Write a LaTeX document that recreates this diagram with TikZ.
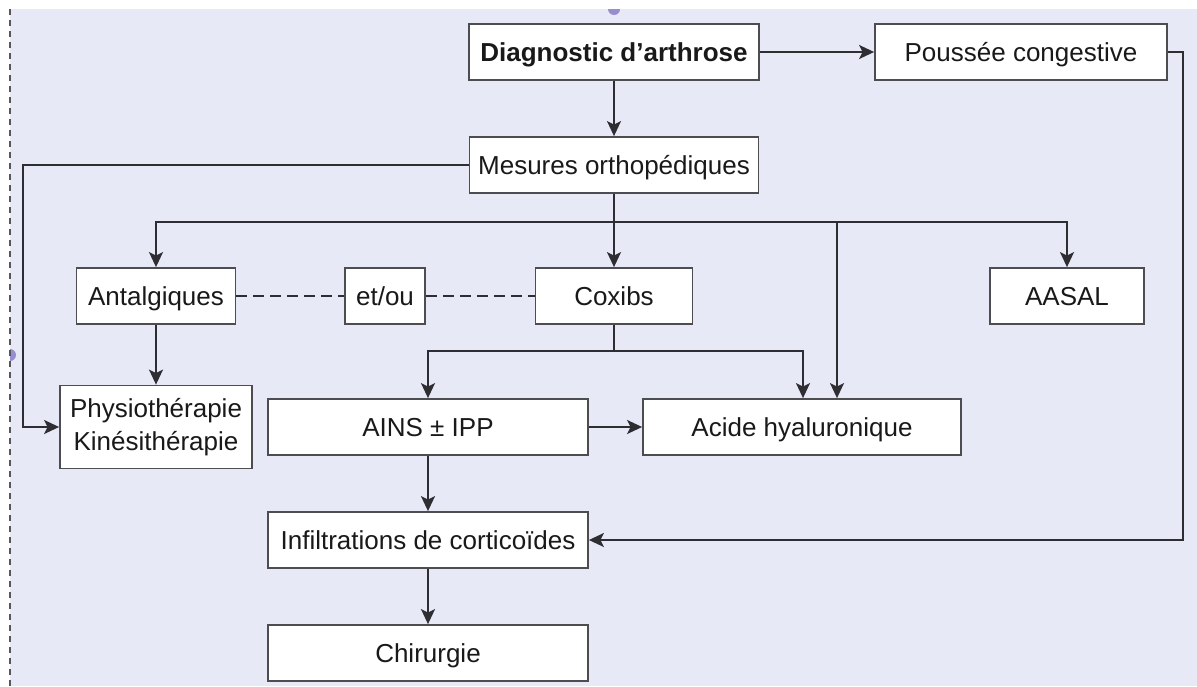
\documentclass[tikz,border=0pt]{standalone}
\usepackage{fontspec}
\setmainfont{Liberation Sans}
\usetikzlibrary{arrows.meta}
\definecolor{bgpage}{RGB}{232,233,247}
\definecolor{lineg}{RGB}{45,45,50}
\definecolor{dotpurple}{RGB}{150,142,205}

\begin{document}
\begin{tikzpicture}[x=1pt, y=-1pt,
        basebox/.style={draw=lineg!85, line width=1.8pt, fill=white, inner sep=2pt, font=\fontsize{26}{33}\selectfont, text=black!90},
        box/.style={basebox, minimum height=56pt, text height=18.6pt, text depth=0pt},
        conn/.style={draw=lineg, line width=1.9pt},
        arr/.style={conn, -{Stealth[length=15pt, width=14pt, inset=3.5pt]}}]
            \useasboundingbox (0, 0) rectangle (1197, 686);
            \fill[bgpage] (10, 9) rectangle (1197, 686);
            \begin{scope}
                \clip (10, 9) rectangle (1197, 686);
                \fill[dotpurple] (614, 9) circle (6);
                \fill[dotpurple] (10, 355) circle (6);
            \end{scope}
            \draw[lineg!80, line width=1.3pt, dash pattern=on 6pt off 5pt] (10, 9) -- (10, 686);

            \node[box, minimum width=290pt, font=\fontsize{26}{33}\selectfont\bfseries] (diag) at (614, 52) {Diagnostic d’arthrose};
            \node[box, minimum width=292pt] (pouss) at (1021, 52) {Poussée congestive};
            \node[box, minimum width=289pt] (mes) at (614, 165) {Mesures orthopédiques};
            \node[box, minimum width=159pt] (antal) at (156, 296) {Antalgiques};
            \node[box, minimum width=80pt] (etou) at (385, 296) {et/ou};
            \node[box, minimum width=157pt] (coxibs) at (614, 296) {Coxibs};
            \node[box, minimum width=154pt] (aasal) at (1067, 296) {AASAL};
            \node[basebox, minimum width=192pt, minimum height=83pt, align=center] (physio) at (156, 427) {Physiothérapie\\Kinésithérapie};
            \node[box, minimum width=320pt] (ains) at (428, 427) {AINS ± IPP};
            \node[box, minimum width=318pt] (acide) at (802, 427) {Acide hyaluronique};
            \node[box, minimum width=320pt] (infil) at (428, 540) {Infiltrations de corticoïdes};
            \node[box, minimum width=320pt] (chir) at (428, 653) {Chirurgie};

            \coordinate (br1) at (614, 222);
            \coordinate (br2) at (614, 351);

            \draw[arr] (diag) -- (pouss);
            \draw[arr] (diag) -- (mes);
            \draw[arr] (pouss.east) -- (1183, 52) |- (infil.east);
            \draw[arr] (mes.west) -- (23, 165) |- (physio.west);
            \draw[conn] (mes) -- (br1);
            \draw[arr] (br1) -| (antal.north);
            \draw[arr] (br1) -- (coxibs);
            \draw[arr] (br1) -| (aasal.north);
            \draw[arr] (837, 222) -- (acide.north -| 837, 0);
            \draw[conn, dash pattern=on 11pt off 6pt] (antal) -- (etou);
            \draw[conn, dash pattern=on 11pt off 6pt] (etou) -- (coxibs);
            \draw[arr] (antal) -- (physio);
            \draw[conn] (coxibs) -- (br2);
            \draw[arr] (br2) -| (ains.north);
            \draw[arr] (br2) -| (acide.north -| 803, 0);
            \draw[arr] (ains) -- (acide);
            \draw[arr] (ains) -- (infil);
            \draw[arr] (infil) -- (chir);
        \end{tikzpicture}
\end{document}
